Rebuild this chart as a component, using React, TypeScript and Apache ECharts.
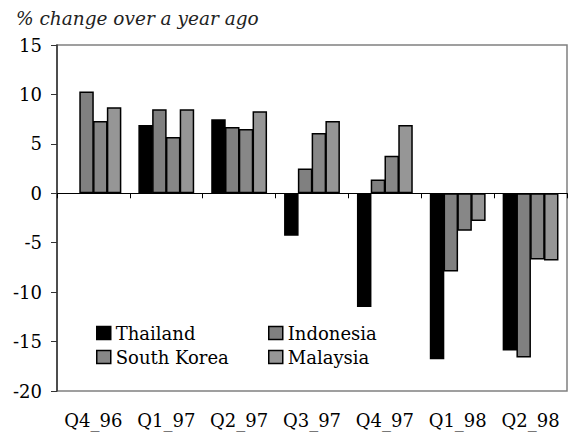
import React, { useEffect, useRef } from "react";
import * as echarts from "echarts";

const categories = ["Q4_96", "Q1_97", "Q2_97", "Q3_97", "Q4_97", "Q1_98", "Q2_98"];
const thailand = [null, 6.9, 7.5, -4.3, -11.5, -16.8, -15.9];
const indonesia = [10.3, 8.5, 6.7, 2.5, 1.4, -7.9, -16.6];
const southKorea = [7.3, 5.7, 6.5, 6.1, 3.8, -3.8, -6.7];
const malaysia = [8.7, 8.5, 8.3, 7.3, 6.9, -2.8, -6.8];
const yTicks = { min: -20, max: 15, interval: 5 };

const FONT = "DejaVu Serif";

export default function App() {
  const ref = useRef<HTMLDivElement>(null);
  useEffect(() => {
    if (!ref.current) return;
    const chart = echarts.init(ref.current, null, { renderer: "svg" });
    const barBase = {
      type: "bar" as const,
      xAxisIndex: 0,
      barWidth: 14.5,
      barGap: "-5%",
      barCategoryGap: "20%",
    };
    const border = { borderColor: "#000", borderWidth: 1.5 };
    const legendBase = {
      orient: "horizontal" as const,
      padding: 0,
      itemWidth: 14,
      itemHeight: 13,
      icon: "rect",
      textStyle: { fontFamily: FONT, fontSize: 18, color: "#000" },
      itemStyle: border,
      selectedMode: false,
    };
    chart.setOption({
      animation: false,
      backgroundColor: "#fff",
      textStyle: { fontFamily: FONT },
      title: {
        text: "% change over a year ago",
        left: 11,
        top: 4,
        textStyle: {
          fontFamily: FONT,
          fontStyle: "italic",
          fontWeight: "normal",
          fontSize: 18.5,
          color: "#222",
        },
      },
      legend: [
        { ...legendBase, data: ["Thailand"], left: 96, top: 324 },
        { ...legendBase, data: ["Indonesia"], left: 268, top: 324 },
        { ...legendBase, data: ["South Korea"], left: 96, top: 348 },
        { ...legendBase, data: ["Malaysia"], left: 268, top: 348 },
      ],
      grid: {
        left: 57,
        right: 4,
        top: 45,
        bottom: 43,
        show: true,
        borderColor: "#808080",
        borderWidth: 1.5,
        backgroundColor: "transparent",
      },
      xAxis: [
        {
          type: "category",
          data: categories,
          position: "bottom",
          axisLine: { show: false, onZero: false },
          axisTick: { show: false },
          splitLine: { show: false },
          axisLabel: {
            interval: 0,
            hideOverlap: false,
            fontFamily: FONT,
            fontSize: 18,
            color: "#000",
            margin: 20,
          },
        },
        {
          type: "category",
          data: categories,
          position: "bottom",
          axisLine: { show: true, onZero: true, lineStyle: { color: "#000", width: 1.2 } },
          axisTick: { show: true, length: 5, lineStyle: { color: "#000", width: 1 } },
          axisLabel: { show: false },
          splitLine: { show: false },
        },
      ],
      yAxis: {
        type: "value",
        min: yTicks.min,
        max: yTicks.max,
        interval: yTicks.interval,
        axisLine: { show: true, lineStyle: { color: "#333", width: 1.5 } },
        axisTick: { show: true, length: 6, lineStyle: { color: "#333", width: 1 } },
        splitLine: { show: false },
        axisLabel: {
          fontFamily: FONT,
          fontSize: 18,
          color: "#000",
          margin: 15,
        },
      },
      series: [
        { ...barBase, name: "Thailand", data: thailand, itemStyle: { color: "#000", ...border } },
        { ...barBase, name: "Indonesia", data: indonesia, itemStyle: { color: "#808080", ...border } },
        { ...barBase, name: "South Korea", data: southKorea, itemStyle: { color: "#878787", ...border } },
        { ...barBase, name: "Malaysia", data: malaysia, itemStyle: { color: "#969696", ...border } },
      ],
    });
    return () => chart.dispose();
  }, []);
  return (
    <div
      ref={ref}
      style={{ position: "fixed", left: 0, top: 0, width: 571, height: 434 }}
    />
  );
}
